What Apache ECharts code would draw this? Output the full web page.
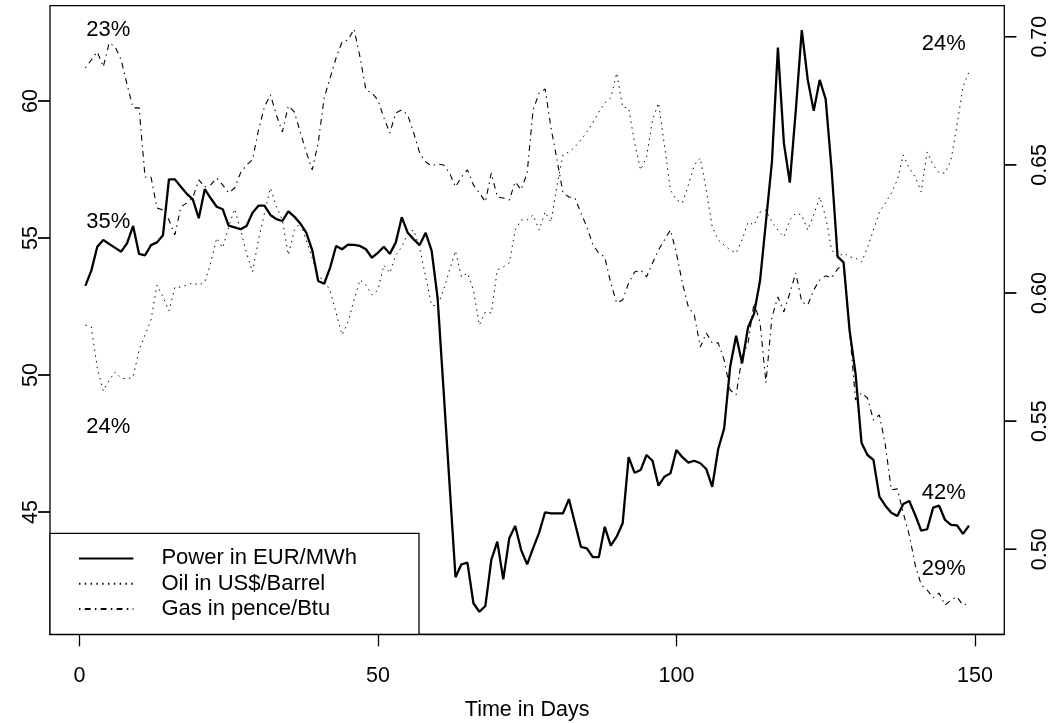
<!DOCTYPE html>
<html><head><meta charset="utf-8">
<script src="https://cdn.jsdelivr.net/npm/echarts@6/dist/echarts.min.js"></script>
<style>html,body{margin:0;padding:0;background:#fff}#c{width:1052px;height:723px}</style>
</head><body><div id="c"></div>
<script>
const days = Array.from({length: 149}, (_, i) => i + 1);
const power = [53.25,53.81,54.68,54.93,54.78,54.64,54.50,54.81,55.44,54.42,
54.37,54.74,54.84,55.10,57.14,57.14,56.87,56.61,56.41,55.72,
56.78,56.45,56.14,56.05,55.45,55.39,55.32,55.44,55.92,56.18,
56.18,55.84,55.69,55.62,55.97,55.78,55.53,55.20,54.56,53.43,
53.33,53.92,54.71,54.59,54.76,54.75,54.71,54.59,54.28,54.46,
54.68,54.42,54.84,55.76,55.19,54.95,54.74,55.19,54.54,52.81,
49.45,46.02,42.62,43.09,43.15,41.67,41.36,41.57,43.25,43.92,
42.54,44.04,44.49,43.61,43.09,43.68,44.24,44.99,44.95,44.95,
44.95,45.47,44.60,43.73,43.67,43.35,43.35,44.46,43.77,44.10,
44.59,47.00,46.43,46.53,47.08,46.87,45.96,46.29,46.41,47.26,
47.00,46.80,46.87,46.78,46.57,45.92,47.30,48.05,50.30,51.43,
50.43,51.74,52.23,53.43,55.60,57.78,61.95,58.46,57.02,59.67,
62.59,60.77,59.64,60.77,60.07,57.48,54.32,54.11,51.64,50.06,
47.53,47.08,46.90,45.56,45.23,44.97,44.85,45.29,45.40,44.89,
44.32,44.37,45.16,45.23,44.71,44.53,44.51,44.20,44.50];
const oil = [51.82,51.75,50.26,49.42,49.82,50.11,49.89,49.85,49.93,50.91,
51.46,52.01,53.28,52.85,52.34,53.21,53.21,53.28,53.36,53.28,
53.39,54.09,55.00,54.64,55.40,56.06,55.29,54.45,53.76,54.93,
55.91,56.82,56.13,55.66,54.38,55.29,55.55,54.93,54.27,53.58,
53.47,53.07,52.26,51.46,51.93,52.74,53.47,53.28,52.92,53.10,
54.01,53.72,54.38,54.67,55.18,55.29,54.64,53.58,52.55,52.52,
53.10,53.83,54.53,53.58,53.72,53.10,51.82,52.30,52.26,53.83,
53.94,54.09,55.29,55.66,55.66,55.84,55.29,55.95,55.58,56.93,
58.03,58.14,58.32,58.58,58.87,59.20,59.60,59.93,60.11,61.02,
59.78,59.74,58.47,57.48,57.96,59.31,59.93,58.39,56.75,56.39,
56.28,56.93,57.66,57.92,56.75,55.40,54.93,54.74,54.56,54.45,
54.93,55.58,55.47,55.95,56.02,55.58,55.29,55.04,55.66,55.91,
55.84,55.29,55.84,56.50,55.77,54.56,54.31,54.45,54.31,54.27,
54.12,54.64,55.29,55.95,56.28,56.64,57.12,58.03,57.55,57.23,
56.68,58.14,57.66,57.37,57.37,57.85,59.12,60.51,61.06];
const gas = [0.6880,0.6911,0.6943,0.6884,0.6978,0.6962,0.6911,0.6814,0.6724,0.6724,
0.6454,0.6454,0.6333,0.6325,0.6286,0.6228,0.6337,0.6353,0.6372,0.6443,
0.6415,0.6423,0.6450,0.6423,0.6392,0.6411,0.6470,0.6501,0.6521,0.6638,
0.6728,0.6775,0.6696,0.6630,0.6732,0.6708,0.6630,0.6552,0.6482,0.6587,
0.6763,0.6841,0.6919,0.6982,0.6989,0.7032,0.6923,0.6794,0.6782,0.6755,
0.6685,0.6626,0.6704,0.6716,0.6696,0.6626,0.6548,0.6513,0.6497,0.6505,
0.6501,0.6470,0.6415,0.6454,0.6482,0.6423,0.6392,0.6357,0.6470,0.6376,
0.6372,0.6364,0.6435,0.6404,0.6470,0.6716,0.6782,0.6798,0.6646,0.6521,
0.6392,0.6376,0.6372,0.6314,0.6259,0.6189,0.6157,0.6142,0.6040,0.5962,
0.5974,0.6040,0.6083,0.6091,0.6064,0.6118,0.6169,0.6208,0.6247,0.6157,
0.6040,0.5946,0.5915,0.5790,0.5845,0.5806,0.5806,0.5739,0.5622,0.5603,
0.5751,0.5806,0.5962,0.5888,0.5650,0.5907,0.5986,0.5927,0.6001,0.6079,
0.5966,0.5954,0.6013,0.6052,0.6068,0.6060,0.6095,0.6111,0.5857,0.5583,
0.5611,0.5591,0.5505,0.5525,0.5407,0.5232,0.5236,0.5142,0.5056,0.4939,
0.4861,0.4841,0.4810,0.4829,0.4782,0.4802,0.4814,0.4782,0.4790];
const xTicks = [0, 50, 100, 150];
const leftTicks = [45, 50, 55, 60];
const rightTicks = [0.50, 0.55, 0.60, 0.65, 0.70];
const noteX = [4.85, 4.85, 4.85, 144.8, 144.8, 144.8];
const noteY = [62.58, 55.60, 48.12, 62.09, 45.71, 42.93];
const noteText = ['23%', '35%', '24%', '24%', '42%', '29%'];
const seriesNames = ['Power in EUR/MWh', 'Oil in US$/Barrel', 'Gas in pence/Btu'];

const FONT = '"Liberation Sans", Arial, Helvetica, sans-serif';
const pair = arr => days.map((d, i) => [d, arr[i]]);
const lineBlack = {color: '#000', width: 1.3};
const H = 723;
const TICK_LEN = 12;
const BOX_L = 50, BOX_R = 1004.3;
// plot box: x 50..1004.3, y 5.7..634.3; left ticks 45->y512, 60->y101; right ticks 0.50->y549.3, 0.70->y36.7
const LEFT_GRID = {top: 101, bottom: H - 512};
const RIGHT_GRID = {top: 36.7, bottom: H - 549.3};
const gb = {left: 50, right: 47.7, outerBoundsMode: 'none', containLabel: false, show: false};

function labelAxis(gridIndex, position, ticks, margin, fmt) {
  const min = ticks[0], max = ticks[ticks.length - 1];
  return {
    gridIndex, type: 'value', position, min, max, interval: ticks[1] - ticks[0],
    axisLine: {show: false, onZero: false}, splitLine: {show: false}, axisTick: {show: false},
    axisLabel: {show: true, rotate: 90, fontSize: 21.5, color: '#000', margin,
                fontFamily: FONT, formatter: fmt}
  };
}
const fmt2 = v => Number(v).toFixed(2);

function tickSeries(xAxisIndex, yAxisIndex, ticks, xEdge, dir) {
  return {
    type: 'custom', xAxisIndex, yAxisIndex, clip: false, silent: true, zlevel: 3, z: 50,
    data: ticks.map(v => [xEdge, v]),
    renderItem: (params, api) => {
      const p = api.coord([api.value(0), api.value(1)]);
      const x0 = dir < 0 ? p[0] - TICK_LEN : p[0];
      return {type: 'rect', shape: {x: x0, y: p[1] - 0.65, width: TICK_LEN, height: 1.3},
              style: {fill: '#000'}};
    }
  };
}

const chart = echarts.init(document.getElementById('c'), null, {renderer: 'canvas'});
chart.setOption({
  animation: false,
  backgroundColor: '#fff',
  textStyle: {fontFamily: FONT},
  grid: [
    {left: 50, right: 47.7, top: 5.7, bottom: 88.7, show: true, outerBoundsMode: 'none', containLabel: false,
     borderColor: '#000', borderWidth: 1.3, backgroundColor: 'transparent'},
    Object.assign({}, gb, LEFT_GRID),
    Object.assign({}, gb, RIGHT_GRID)
  ],
  xAxis: [{
    gridIndex: 0, type: 'value', min: -4.92, max: 154.92,
    name: 'Time in Days', nameLocation: 'middle', nameGap: 65,
    nameTextStyle: {fontSize: 21.5, color: '#000', fontFamily: FONT},
    axisLine: {show: true, onZero: false, lineStyle: lineBlack},
    splitLine: {show: false},
    axisTick: {show: true, length: TICK_LEN, lineStyle: lineBlack, customValues: xTicks},
    axisLabel: {show: true, customValues: xTicks, fontSize: 21.5, color: '#000', margin: 31, fontFamily: FONT}
  },
    {gridIndex: 1, type: 'value', min: 0, max: 1, show: false},
    {gridIndex: 2, type: 'value', min: 0, max: 1, show: false}
  ],
  yAxis: [{
    gridIndex: 0, type: 'value', position: 'left', min: 40.536, max: 63.478,
    axisLine: {show: false}, splitLine: {show: false}, axisTick: {show: false}, axisLabel: {show: false}
  }, {
    gridIndex: 0, type: 'value', position: 'right', min: 0.4668, max: 0.7123,
    axisLine: {show: false}, splitLine: {show: false}, axisTick: {show: false}, axisLabel: {show: false}
  },
    labelAxis(1, 'left', leftTicks, 8),
    labelAxis(2, 'right', rightTicks, 25, fmt2)
  ],
  legend: {
    show: true, orient: 'vertical', left: 50, bottom: 88.7,
    data: seriesNames,
    backgroundColor: '#fff', borderColor: '#000', borderWidth: 1.3, borderRadius: 0,
    padding: [10.1, 62, 10.3, 28],
    itemWidth: 54.4, itemHeight: 22, itemGap: -4.7,
    selectedMode: false,
    itemStyle: {color: 'transparent', borderColor: 'transparent', borderWidth: 0, opacity: 0},
    textStyle: {fontSize: 22, color: '#000', fontFamily: FONT, lineHeight: 22, padding: [8, 0, 0, 23]}
  },
  series: [{
    name: seriesNames[0], type: 'line', xAxisIndex: 0, yAxisIndex: 0, data: pair(power),
    symbol: 'none', showSymbol: false, silent: true,
    lineStyle: {color: '#000', width: 2.3, type: 'solid'}, itemStyle: {color: '#000'}
  }, {
    name: seriesNames[1], type: 'line', xAxisIndex: 0, yAxisIndex: 0, data: pair(oil),
    symbol: 'none', showSymbol: false, silent: true,
    lineStyle: {color: '#000', width: 1, type: [1.45, 4.35]}, itemStyle: {color: '#000'}
  }, {
    name: seriesNames[2], type: 'line', xAxisIndex: 0, yAxisIndex: 1, data: pair(gas),
    symbol: 'none', showSymbol: false, silent: true,
    lineStyle: {color: '#000', width: 1.1, type: [1.45, 4.35, 5.8, 4.35]}, itemStyle: {color: '#000'}
  }, {
    name: 'notes', type: 'scatter', xAxisIndex: 0, yAxisIndex: 0, silent: true,
    data: noteX.map((x, i) => [x, noteY[i], noteText[i]]),
    symbolSize: 1, itemStyle: {color: 'transparent', opacity: 1},
    label: {show: true, position: 'inside', formatter: p => p.data[2], opacity: 1,
            fontSize: 22, color: '#000', fontFamily: FONT}
  },
    tickSeries(1, 2, leftTicks, 0, -1),
    tickSeries(2, 3, rightTicks, 1, 1)
  ]
});

// Second path for the y tick stubs: graphic rects on a top layer, positioned via the tick axes' scales.
function tickY(axisIndex, v, gridTop, gridBottom, tMin, tMax) {
  let y = chart.convertToPixel({yAxisIndex: axisIndex}, v);
  if (Array.isArray(y)) y = y[1];
  if (typeof y !== 'number' || !isFinite(y)) {
    const top = gridTop, bot = H - gridBottom;
    y = bot - (v - tMin) / (tMax - tMin) * (bot - top);
  }
  return y;
}
const stubs = [];
leftTicks.forEach(v => {
  const y = tickY(2, v, LEFT_GRID.top, LEFT_GRID.bottom, leftTicks[0], leftTicks[leftTicks.length - 1]);
  stubs.push({type: 'rect', silent: true, zlevel: 4, z: 100,
    shape: {x: BOX_L - TICK_LEN, y: y - 0.65, width: TICK_LEN, height: 1.3}, style: {fill: '#000'}});
});
rightTicks.forEach(v => {
  const y = tickY(3, v, RIGHT_GRID.top, RIGHT_GRID.bottom, rightTicks[0], rightTicks[rightTicks.length - 1]);
  stubs.push({type: 'rect', silent: true, zlevel: 4, z: 100,
    shape: {x: BOX_R, y: y - 0.65, width: TICK_LEN, height: 1.3}, style: {fill: '#000'}});
});
chart.setOption({graphic: {elements: stubs}});
</script></body></html>
